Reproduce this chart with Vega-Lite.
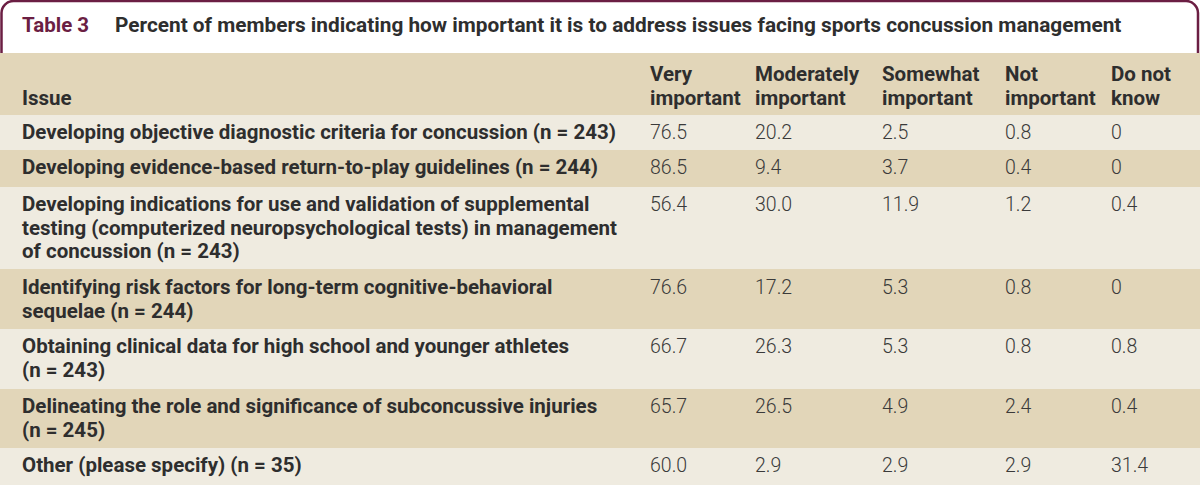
{
  "$schema": "https://vega.github.io/schema/vega-lite/v6.json",
  "width": 1200,
  "height": 485,
  "autosize": {"type": "none"},
  "padding": 0,
  "background": "white",
  "config": {"view": {"stroke": null}, "text": {"font": "Roboto"}},
  "datasets": {
    "rows": [
      {"row": -1, "top": 1, "bottom": 90, "line1": 26},
      {"row": 0, "top": 53, "bottom": 115, "line1": 75, "shade": "tan"},
      {"row": 1, "top": 115, "bottom": 150, "line1": 133, "shade": "light"},
      {"row": 2, "top": 150, "bottom": 187, "line1": 168, "shade": "tan"},
      {"row": 3, "top": 187, "bottom": 269, "line1": 205, "shade": "light"},
      {"row": 4, "top": 269, "bottom": 329, "line1": 288, "shade": "tan"},
      {"row": 5, "top": 329, "bottom": 389, "line1": 347, "shade": "light"},
      {"row": 6, "top": 389, "bottom": 448, "line1": 407, "shade": "tan"},
      {"row": 7, "top": 448, "bottom": 490, "line1": 466, "shade": "light"}
    ],
    "cols": [
      {"key": "Issue", "x": 22, "label": "\nIssue", "row": 0},
      {"key": "Very important", "x": 650, "label": "Very\nimportant", "row": 0},
      {"key": "Moderately important", "x": 755, "label": "Moderately\nimportant", "row": 0},
      {"key": "Somewhat important", "x": 882, "label": "Somewhat\nimportant", "row": 0},
      {"key": "Not important", "x": 1005, "label": "Not\nimportant", "row": 0},
      {"key": "Do not know", "x": 1111, "label": "Do not\nknow", "row": 0}
    ],
    "title": [
      {"part": "number", "text": "Table 3", "x": 22, "row": -1},
      {"part": "caption", "text": "Percent of members indicating how important it is to address issues facing sports concussion management", "x": 115, "row": -1}
    ],
    "issues": [
      {"row": 1, "Issue": "Developing objective diagnostic criteria for concussion (n = 243)", "Very important": "76.5", "Moderately important": "20.2", "Somewhat important": "2.5", "Not important": "0.8", "Do not know": "0"},
      {"row": 2, "Issue": "Developing evidence-based return-to-play guidelines (n = 244)", "Very important": "86.5", "Moderately important": "9.4", "Somewhat important": "3.7", "Not important": "0.4", "Do not know": "0"},
      {"row": 3, "Issue": "Developing indications for use and validation of supplemental\ntesting (computerized neuropsychological tests) in management\nof concussion (n = 243)", "Very important": "56.4", "Moderately important": "30.0", "Somewhat important": "11.9", "Not important": "1.2", "Do not know": "0.4"},
      {"row": 4, "Issue": "Identifying risk factors for long-term cognitive-behavioral\nsequelae (n = 244)", "Very important": "76.6", "Moderately important": "17.2", "Somewhat important": "5.3", "Not important": "0.8", "Do not know": "0"},
      {"row": 5, "Issue": "Obtaining clinical data for high school and younger athletes\n(n = 243)", "Very important": "66.7", "Moderately important": "26.3", "Somewhat important": "5.3", "Not important": "0.8", "Do not know": "0.8"},
      {"row": 6, "Issue": "Delineating the role and significance of subconcussive injuries\n(n = 245)", "Very important": "65.7", "Moderately important": "26.5", "Somewhat important": "4.9", "Not important": "2.4", "Do not know": "0.4"},
      {"row": 7, "Issue": "Other (please specify) (n = 35)", "Very important": "60.0", "Moderately important": "2.9", "Somewhat important": "2.9", "Not important": "2.9", "Do not know": "31.4"}
    ]
  },
  "layer": [
    {
      "data": {"name": "rows"},
      "transform": [{"filter": "datum.row === -1"}],
      "mark": {"type": "rect", "fill": "white", "stroke": "#6b1e43", "strokeWidth": 2.5, "cornerRadius": 12},
      "encoding": {
        "x": {"datum": 1.5, "type": "quantitative", "scale": {"domain": [0, 1200], "nice": false, "zero": false}, "axis": null},
        "x2": {"datum": 1198},
        "y": {"field": "top", "type": "quantitative", "scale": {"domain": [0, 485], "reverse": true, "nice": false, "zero": false}, "axis": null},
        "y2": {"field": "bottom"}
      }
    },
    {
      "data": {"name": "rows"},
      "transform": [{"filter": "datum.row >= 0"}],
      "mark": {"type": "rect"},
      "encoding": {
        "x": {"datum": 0, "type": "quantitative"},
        "x2": {"datum": 1200},
        "y": {"field": "top", "type": "quantitative"},
        "y2": {"field": "bottom"},
        "color": {"field": "shade", "type": "nominal", "scale": {"domain": ["tan", "light"], "range": ["#e2d6b9", "#efebe0"]}, "legend": null}
      }
    },
    {
      "data": {"name": "title"},
      "transform": [
        {"filter": "datum.part === 'number'"},
        {"lookup": "row", "from": {"data": {"name": "rows"}, "key": "row", "fields": ["line1"]}}
      ],
      "mark": {"type": "text", "align": "left", "baseline": "middle", "fontSize": 20.5, "fontWeight": "bold", "color": "#6b1e43"},
      "encoding": {
        "x": {"field": "x", "type": "quantitative"},
        "y": {"field": "line1", "type": "quantitative"},
        "text": {"field": "text"}
      }
    },
    {
      "data": {"name": "title"},
      "transform": [
        {"filter": "datum.part === 'caption'"},
        {"lookup": "row", "from": {"data": {"name": "rows"}, "key": "row", "fields": ["line1"]}}
      ],
      "mark": {"type": "text", "align": "left", "baseline": "middle", "fontSize": 20.8, "fontWeight": "bold", "color": "#2e2e2e"},
      "encoding": {
        "x": {"field": "x", "type": "quantitative"},
        "y": {"field": "line1", "type": "quantitative"},
        "text": {"field": "text"}
      }
    },
    {
      "data": {"name": "cols"},
      "transform": [{"lookup": "row", "from": {"data": {"name": "rows"}, "key": "row", "fields": ["line1"]}}],
      "mark": {"type": "text", "align": "left", "baseline": "middle", "fontSize": 20.5, "fontWeight": "bold", "lineBreak": "\n", "lineHeight": 23.5, "color": "#2e2e2e"},
      "encoding": {
        "x": {"field": "x", "type": "quantitative"},
        "y": {"field": "line1", "type": "quantitative"},
        "text": {"field": "label"}
      }
    },
    {
      "data": {"name": "issues"},
      "transform": [
        {"lookup": "row", "from": {"data": {"name": "rows"}, "key": "row", "fields": ["line1"]}}
      ],
      "mark": {"type": "text", "align": "left", "baseline": "middle", "fontSize": 20.5, "fontWeight": "bold", "lineBreak": "\n", "lineHeight": 23.5, "color": "#2e2e2e"},
      "encoding": {
        "x": {"datum": 22, "type": "quantitative"},
        "y": {"field": "line1", "type": "quantitative"},
        "text": {"field": "Issue"}
      }
    },
    {
      "data": {"name": "issues"},
      "transform": [
        {"fold": ["Very important", "Moderately important", "Somewhat important", "Not important", "Do not know"]},
        {"lookup": "row", "from": {"data": {"name": "rows"}, "key": "row", "fields": ["line1"]}},
        {"lookup": "key", "from": {"data": {"name": "cols"}, "key": "key", "fields": ["x"]}}
      ],
      "mark": {"type": "text", "align": "left", "baseline": "middle", "fontSize": 19.5, "fontWeight": 300, "color": "#3a3a3a"},
      "encoding": {
        "x": {"field": "x", "type": "quantitative"},
        "y": {"field": "line1", "type": "quantitative"},
        "text": {"field": "value"}
      }
    }
  ]
}
